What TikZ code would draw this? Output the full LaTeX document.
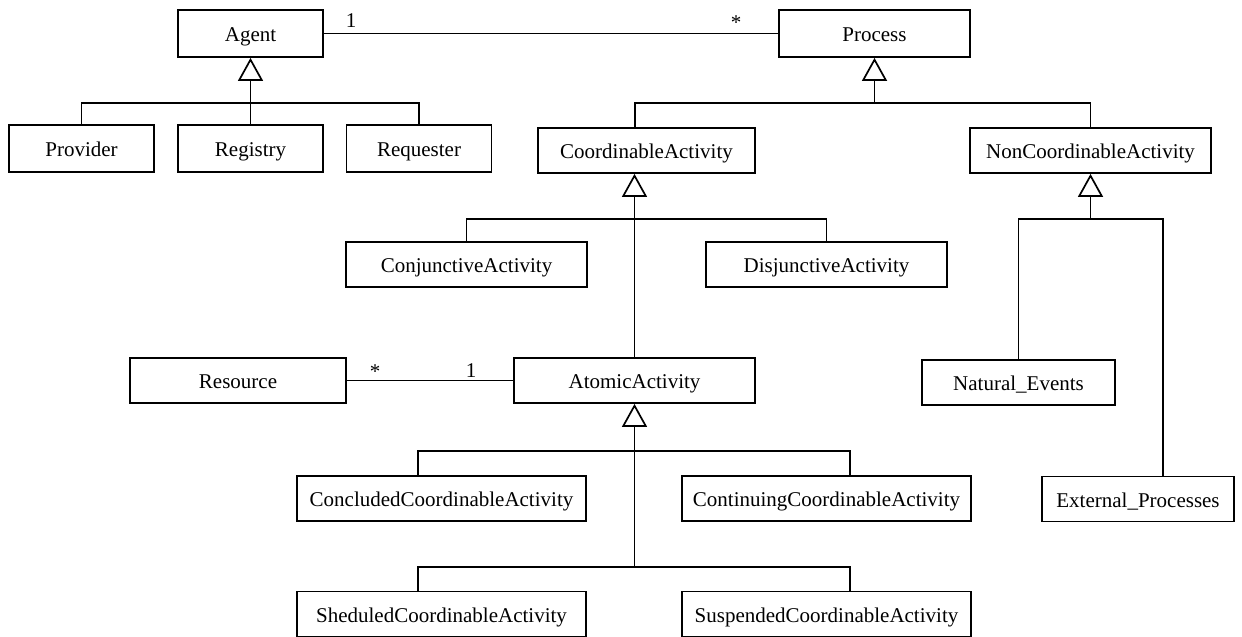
\documentclass[tikz,border=0pt]{standalone}
\usepackage{fontspec}
\setmainfont{Liberation Serif}
\usetikzlibrary{arrows.meta,calc}
\begin{document}
\begin{tikzpicture}[x=1pt,y=-1pt,
  cls/.style={draw, line width=1.8pt, inner sep=0pt, minimum height=45pt, text height=17pt, text depth=1pt, font=\fontsize{21}{25}\selectfont},
  conn/.style={line width=1.7pt},
  gen/.style={conn, -{Triangle[open,length=23pt,width=25pt,line width=1.7pt]}},
  mult/.style={inner sep=0pt, font=\fontsize{21}{25}\selectfont}]
\useasboundingbox (0,0) rectangle (1242,637);
% classes
\node[cls, minimum width=145pt, minimum height=47pt] (Agent) at (250.5,33.5) {Agent};
\node[cls, minimum width=191pt, minimum height=47pt] (Process) at (874.5,33.5) {Process};
\node[cls, minimum width=145pt, minimum height=47pt] (Provider) at (81.5,148.5) {Provider};
\node[cls, minimum width=145pt, minimum height=47pt] (Registry) at (250.5,148.5) {Registry};
\node[cls, minimum width=145pt, minimum height=47pt] (Requester) at (419,148.5) {Requester};
\node[cls, minimum width=217pt] (CA) at (646.5,150.5) {CoordinableActivity};
\node[cls, minimum width=241pt] (NCA) at (1090.5,150.5) {NonCoordinableActivity};
\node[cls, minimum width=241pt] (Conj) at (466.5,264.5) {ConjunctiveActivity};
\node[cls, minimum width=241pt] (Disj) at (826.5,264.5) {DisjunctiveActivity};
\node[cls, minimum width=216pt] (Resource) at (238,380.5) {Resource};
\node[cls, minimum width=241pt] (Atomic) at (634.5,380.5) {AtomicActivity};
\node[cls, minimum width=193pt] (Natural) at (1018.5,382.5) {Natural\_Events};
\node[cls, minimum width=192pt] (External) at (1138,499) {External\_Processes};
\node[cls, minimum width=289pt] (Concluded) at (441.5,498.5) {ConcludedCoordinableActivity};
\node[cls, minimum width=289pt] (Continuing) at (826.5,498.5) {ContinuingCoordinableActivity};
\node[cls, minimum width=289pt] (Sheduled) at (441.5,614) {SheduledCoordinableActivity};
\node[cls, minimum width=289pt] (Suspended) at (826.5,614) {SuspendedCoordinableActivity};
% associations
\draw[conn] (Agent.east) -- (Process.west);
\node[mult] (m1) at (351,21) {1};
\node[mult] (m2) at (736,23) {*};
\draw[conn] (Resource.east) -- (Atomic.west);
\node[mult] (m3) at (375,372) {*};
\node[mult] (m4) at (471,371) {1};
% Agent hierarchy
\coordinate (agb) at (250.5,103);
\draw[conn] (Provider.north) |- (Requester.north |- agb) -- (Requester.north);
\draw[gen] (Registry.north) -- (Agent.south);
% Process hierarchy
\coordinate (prb) at (874.5,103);
\coordinate (caIn) at ([xshift=-11.5pt]CA.north);
\draw[conn] (caIn) |- (NCA.north |- prb) -- (NCA.north);
\draw[gen] (prb) -- (Process.south);
% CoordinableActivity hierarchy
\coordinate (cab) at (634.5,219);
\draw[gen] (cab) -- ([xshift=-12pt]CA.south);
\draw[conn] (Conj.north) |- (Disj.north |- cab) -- (Disj.north);
\draw[conn] (cab) -- (Atomic.north);
% NonCoordinableActivity hierarchy
\coordinate (ncb) at (1090.5,219);
\coordinate (extIn) at ([xshift=25pt]External.north);
\draw[gen] (ncb) -- (NCA.south);
\draw[conn] (Natural.north) |- (extIn |- ncb) -- (extIn);
% AtomicActivity hierarchy
\coordinate (atb1) at (634.5,451);
\coordinate (atb2) at (634.5,567);
\coordinate (concIn) at ([xshift=-23.5pt]Concluded.north);
\coordinate (contIn) at ([xshift=23.5pt]Continuing.north);
\coordinate (shedIn) at ([xshift=-23.5pt]Sheduled.north);
\coordinate (suspIn) at ([xshift=23.5pt]Suspended.north);
\draw[gen] (atb1) -- (Atomic.south);
\draw[conn] (atb1) -- (atb2);
\draw[conn] (concIn) |- (contIn |- atb1) -- (contIn);
\draw[conn] (shedIn) |- (suspIn |- atb2) -- (suspIn);
\end{tikzpicture}
\end{document}
